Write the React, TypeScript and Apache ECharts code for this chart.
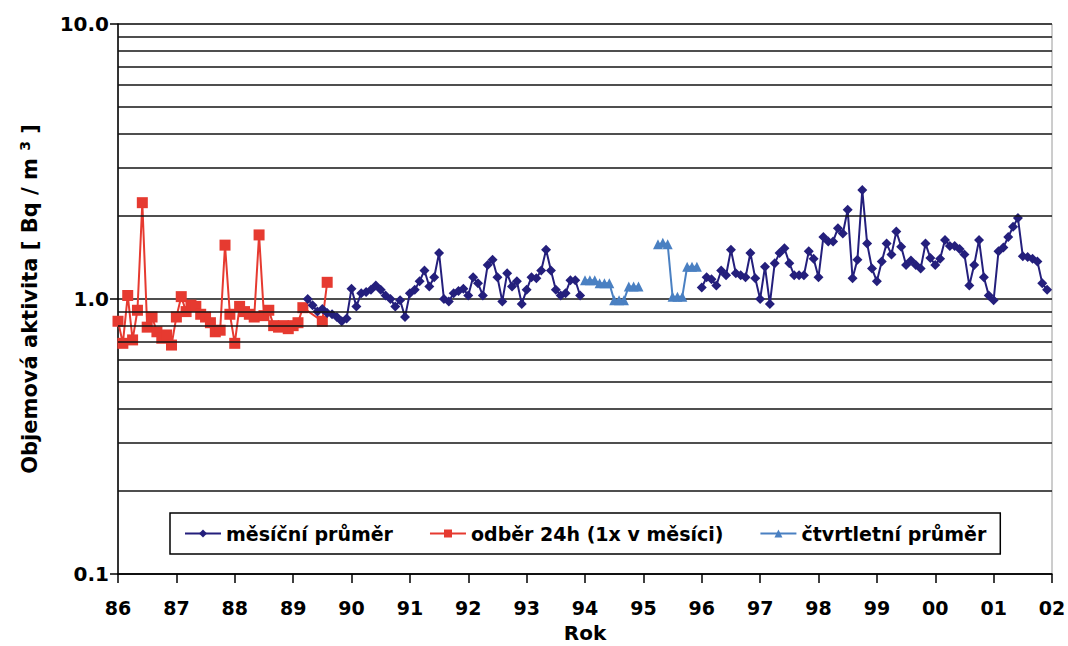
import React, { useEffect, useRef } from "react";
import * as echarts from "echarts";

// Axis range (years 1986–2002, log activity 0.1–10 Bq/m3)
const X_MIN = 1986;
const X_MAX = 2002;
const Y_MIN = 0.1;
const Y_MAX = 10;

// Intermediate log gridlines (2..9 of each decade)
const minorGridValues = [0.2, 0.3, 0.4, 0.5, 0.6, 0.7, 0.8, 0.9, 2, 3, 4, 5, 6, 7, 8, 9];

// Legend labels
const NAME_MONTHLY = "měsíční průměr";
const NAME_DAILY = "odběr 24h (1x v měsíci)";
const NAME_QUARTER = "čtvrtletní průměr";

// 24h sampling once a month, Jan 1986 onwards
const daily1986 = [0.83, 0.69, 1.03, 0.71, 0.91, 2.24, 0.79, 0.86, 0.76, 0.72, 0.74, 0.68];
const daily1987 = [0.86, 1.02, 0.90, 0.95, 0.94, 0.88, 0.86, 0.82, 0.76, 0.77, 1.57, 0.88];
const daily1988 = [0.69, 0.94, 0.90, 0.88, 0.86, 1.71, 0.87, 0.91, 0.80, 0.79, 0.80, 0.78];
const daily1989 = [0.80, 0.82, 0.93, null, null, null, 0.83, 1.15];

// Monthly averages, Apr 1989 – Dec 1993 and Jan 1996 – Dec 2001
const monthly1989 = [1.00, 0.95, 0.90, 0.92, 0.89, 0.88, 0.86, 0.83, 0.85];
const monthly1990 = [1.09, 0.94, 1.05, 1.06, 1.08, 1.12, 1.08, 1.03, 1.00, 0.94, 0.99, 0.86];
const monthly1991 = [1.05, 1.08, 1.16, 1.27, 1.11, 1.20, 1.47, 1.00, 0.98, 1.05, 1.07, 1.09];
const monthly1992 = [1.03, 1.20, 1.14, 1.03, 1.33, 1.39, 1.20, 0.98, 1.24, 1.11, 1.16, 0.96];
const monthly1993 = [1.08, 1.20, 1.19, 1.27, 1.51, 1.27, 1.08, 1.03, 1.05, 1.17, 1.17, 1.03];
const monthly1996 = [1.10, 1.20, 1.18, 1.12, 1.27, 1.22, 1.51, 1.24, 1.22, 1.20, 1.47, 1.19];
const monthly1997 = [1.00, 1.31, 0.96, 1.35, 1.47, 1.53, 1.35, 1.22, 1.22, 1.22, 1.49, 1.40];
const monthly1998 = [1.20, 1.68, 1.62, 1.62, 1.81, 1.73, 2.11, 1.19, 1.39, 2.49, 1.59, 1.29];
const monthly1999 = [1.16, 1.37, 1.59, 1.45, 1.76, 1.55, 1.33, 1.38, 1.33, 1.29, 1.59, 1.41];
const monthly2000 = [1.33, 1.40, 1.64, 1.56, 1.56, 1.52, 1.45, 1.12, 1.33, 1.64, 1.20, 1.03];
const monthly2001 = [0.99, 1.49, 1.54, 1.68, 1.83, 1.97, 1.43, 1.42, 1.40, 1.37, 1.14, 1.08];

// Quarterly averages plotted per month, 1994–1995
const quarter1994 = [1.17, 1.17, 1.17, 1.14, 1.14, 1.14, 0.99, 0.99, 0.99, 1.11, 1.11, 1.11];
const quarter1995 = [null, null, null, 1.58, 1.60, 1.58, 1.02, 1.02, 1.02, 1.31, 1.31, 1.31];

type V = number | null;

// Pair monthly values with their decimal-year position
const toPoints = (startYear: number, startMonth: number, values: V[]) =>
  values.map((v, i) => [startYear + (startMonth + i) / 12, v]);

const dailyPoints = [
  ...toPoints(1986, 0, daily1986),
  ...toPoints(1987, 0, daily1987),
  ...toPoints(1988, 0, daily1988),
  ...toPoints(1989, 0, daily1989),
];

const gap = (year: number) => toPoints(year, 0, new Array(12).fill(null));

const monthlyPoints = [
  ...toPoints(1989, 3, monthly1989),
  ...toPoints(1990, 0, monthly1990),
  ...toPoints(1991, 0, monthly1991),
  ...toPoints(1992, 0, monthly1992),
  ...toPoints(1993, 0, monthly1993),
  ...gap(1994),
  ...gap(1995),
  ...toPoints(1996, 0, monthly1996),
  ...toPoints(1997, 0, monthly1997),
  ...toPoints(1998, 0, monthly1998),
  ...toPoints(1999, 0, monthly1999),
  ...toPoints(2000, 0, monthly2000),
  ...toPoints(2001, 0, monthly2001),
];

const quarterPoints = [...toPoints(1994, 0, quarter1994), ...toPoints(1995, 0, quarter1995)];

const FONT = "DejaVu Sans";
const NAVY = "#241f7c";
const RED = "#e63a30";
const BLUE = "#4a80c2";
const GRID_LINE = "#151515";

export default function App() {
  const ref = useRef<HTMLDivElement>(null);

  useEffect(() => {
    if (!ref.current) return;
    const chart = echarts.init(ref.current, null, { renderer: "svg" });

    chart.setOption({
      animation: false,
      backgroundColor: "#ffffff",
      textStyle: { fontFamily: FONT },
      grid: {
        left: 118,
        right: 16,
        top: 24,
        bottom: 72,
        outerBoundsMode: "none",
        containLabel: false,
        show: true,
        borderColor: "#9a9a9a",
        borderWidth: 1,
      },
      legend: {
        data: [NAME_MONTHLY, NAME_DAILY, NAME_QUARTER],
        left: 170,
        top: 513,
        orient: "horizontal",
        padding: [11, 14, 11, 14],
        borderColor: "#000",
        borderWidth: 1.5,
        backgroundColor: "#fff",
        itemWidth: 36,
        itemHeight: 10,
        itemGap: 36,
        textStyle: { fontFamily: FONT, fontWeight: "bold", fontSize: 19, color: "#000" },
      },
      xAxis: {
        type: "value",
        min: X_MIN,
        max: X_MAX,
        interval: 1,
        name: "Rok",
        nameLocation: "middle",
        nameGap: 48,
        nameTextStyle: { fontFamily: FONT, fontWeight: "bold", fontSize: 20, color: "#000", lineHeight: 22 },
        axisLine: { show: true, onZero: false, lineStyle: { color: "#000", width: 1.5 } },
        axisTick: { show: true, length: 9, lineStyle: { color: "#000", width: 1.5 } },
        axisLabel: {
          margin: 24,
          fontFamily: FONT,
          fontWeight: "bold",
          fontSize: 19,
          color: "#000",
          formatter: (v: number) => String(v % 100).padStart(2, "0"),
        },
        splitLine: { show: false },
      },
      yAxis: {
        type: "log",
        logBase: 10,
        min: Y_MIN,
        max: Y_MAX,
        name: "Objemová aktivita [ Bq / m {sup|3} ]",
        nameLocation: "middle",
        nameGap: 76,
        nameTextStyle: {
          fontFamily: FONT,
          fontWeight: "bold",
          fontSize: 21,
          color: "#000",
          rich: {
            sup: { fontFamily: FONT, fontWeight: "bold", fontSize: 14, color: "#000", verticalAlign: "top", padding: [0, 0, 10, 0] },
          },
        },
        axisLine: { show: true, lineStyle: { color: "#000", width: 1.5 } },
        axisTick: { show: true, length: 8, lineStyle: { color: "#000", width: 1.5 } },
        axisLabel: {
          margin: 9,
          fontFamily: FONT,
          fontWeight: "bold",
          fontSize: 20,
          color: "#000",
          formatter: (v: number) => v.toFixed(1),
        },
        splitLine: { show: true, lineStyle: { color: GRID_LINE, width: 1.5 } },
      },
      series: [
        {
          name: "grid",
          type: "line",
          data: [],
          z: 1,
          silent: true,
          markLine: {
            silent: true,
            symbol: ["none", "none"],
            label: { show: false },
            lineStyle: { color: GRID_LINE, width: 1.5, type: "solid" },
            data: minorGridValues.map((v) => ({ yAxis: v })),
          },
        },
        {
          name: NAME_MONTHLY,
          type: "line",
          data: monthlyPoints,
          z: 4,
          connectNulls: false,
          symbol: "diamond",
          symbolSize: 10,
          showAllSymbol: true,
          lineStyle: { color: NAVY, width: 2 },
          itemStyle: { color: NAVY },
        },
        {
          name: NAME_DAILY,
          type: "line",
          data: dailyPoints,
          z: 3,
          connectNulls: true,
          symbol: "rect",
          symbolSize: 11,
          showAllSymbol: true,
          lineStyle: { color: RED, width: 2 },
          itemStyle: { color: RED },
        },
        {
          name: NAME_QUARTER,
          type: "line",
          data: quarterPoints,
          z: 3,
          connectNulls: false,
          symbol: "triangle",
          symbolSize: 10,
          showAllSymbol: true,
          lineStyle: { color: BLUE, width: 2 },
          itemStyle: { color: BLUE },
        },
      ],
    });

    return () => chart.dispose();
  }, []);

  return (
    <div
      ref={ref}
      style={{ position: "fixed", left: 0, top: 0, width: 1068, height: 646, background: "#fff" }}
    />
  );
}
